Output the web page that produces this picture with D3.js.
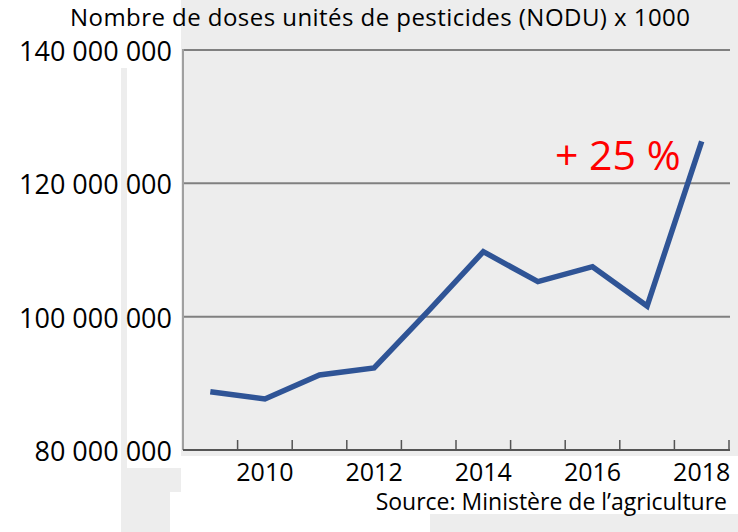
<html lang="fr">
	<head>
		<meta charset="utf-8">
		<title>D3: NODU</title>
		<script src="https://d3js.org/d3.v7.min.js"></script>
		<style type="text/css">
			body {
				margin: 0;
				background: #ededed;
			}
			svg {
				display: block;
			}
			text {
				font-family: "Open Sans", sans-serif;
			}
		</style>
	</head>
	<body>
		<script type="text/javascript">

			// data
			var years = [2009, 2010, 2011, 2012, 2013, 2014, 2015, 2016, 2017, 2018];
			var nodu = [88750000, 87650000, 91250000, 92300000, 100900000, 109750000, 105250000, 107500000, 101600000, 126300000];
			var yTicks = [80000000, 100000000, 120000000, 140000000];
			var xLabels = [2010, 2012, 2014, 2016, 2018];

			var w = 738;
			var h = 532;

			var svg = d3.select("body")
						.append("svg")
						.attr("width", w)
						.attr("height", h);

			// white patches of the original screenshot
			svg.append("rect").attr("x", 0).attr("y", 0).attr("width", 181).attr("height", 68).attr("fill", "#fff");
			svg.append("rect").attr("x", 0).attr("y", 0).attr("width", 121).attr("height", h).attr("fill", "#fff");
			svg.append("rect").attr("x", 127).attr("y", 68).attr("width", 54).attr("height", 400).attr("fill", "#fff");
			svg.append("rect").attr("x", 181).attr("y", 456).attr("width", w - 181).attr("height", 36).attr("fill", "#fff");
			svg.append("rect").attr("x", 170).attr("y", 492).attr("width", 260).attr("height", 40).attr("fill", "#fff");
			svg.append("rect").attr("x", 430).attr("y", 492).attr("width", w - 430).attr("height", 22).attr("fill", "#fff");

			var xScale = d3.scaleBand()
							.domain(years)
							.range([183, 729]);

			var yScale = d3.scaleLinear()
							.domain([80000000, 140000000])
							.range([450, 50]);

			//gridlines
			svg.selectAll("line.grid")
			   .data(yTicks.slice(1))
			   .enter()
			   .append("line")
			   .attr("class", "grid")
			   .attr("x1", 183)
			   .attr("x2", 730)
			   .attr("y1", function(d) { return yScale(d); })
			   .attr("y2", function(d) { return yScale(d); })
			   .attr("stroke", "#808080")
			   .attr("stroke-width", 2);

			// y axis line
			svg.append("line")
			   .attr("x1", 183).attr("x2", 183)
			   .attr("y1", yScale(140000000) - 1).attr("y2", yScale(80000000))
			   .attr("stroke", "#a0a0a0")
			   .attr("stroke-width", 2);

			// y labels
			svg.selectAll("text.ylab")
			   .data(yTicks)
			   .enter()
			   .append("text")
			   .attr("class", "ylab")
			   .attr("x", 172)
			   .attr("y", function(d) { return yScale(d) + 11; })
			   .attr("text-anchor", "end")
			   .attr("font-size", "27px")
			   .attr("fill", "#000")
			   .text(function(d) { return d3.format(",")(d).replace(/,/g, " "); });

			// x axis line, ticks at the band edges
			svg.append("line")
			   .attr("x1", 183).attr("x2", 730)
			   .attr("y1", 450).attr("y2", 450)
			   .attr("stroke", "#555")
			   .attr("stroke-width", 2);

			svg.selectAll("line.tick")
			   .data(years)
			   .enter()
			   .append("line")
			   .attr("class", "tick")
			   .attr("x1", function(d) { return xScale(d) + xScale.bandwidth(); })
			   .attr("x2", function(d) { return xScale(d) + xScale.bandwidth(); })
			   .attr("y1", 450)
			   .attr("y2", 440)
			   .attr("stroke", "#555")
			   .attr("stroke-width", 1.5);

			svg.selectAll("text.xlab")
			   .data(xLabels)
			   .enter()
			   .append("text")
			   .attr("class", "xlab")
			   .attr("x", function(d) { return xScale(d) + xScale.bandwidth() / 2; })
			   .attr("y", 481)
			   .attr("text-anchor", "middle")
			   .attr("font-size", "25px")
			   .attr("fill", "#000")
			   .text(function(d) { return d; });

			// the line
			var line = d3.line()
						.x(function(d, i) { return xScale(years[i]) + xScale.bandwidth() / 2; })
						.y(function(d) { return yScale(d); });

			svg.append("path")
			   .datum(nodu)
			   .attr("d", line)
			   .attr("fill", "none")
			   .attr("stroke", "#2f5496")
			   .attr("stroke-width", 5.5)
			   .attr("stroke-linejoin", "miter");

			// texts
			svg.append("text")
			   .attr("x", 380)
			   .attr("y", 26)
			   .attr("text-anchor", "middle")
			   .attr("font-size", "24px")
			   .attr("textLength", 620)
			   .attr("lengthAdjust", "spacing")
			   .attr("fill", "#000")
			   .text("Nombre de doses unités de pesticides (NODU) x 1000");

			svg.append("text")
			   .attr("x", 555)
			   .attr("y", 170)
			   .attr("font-size", "41px")
			   .attr("fill", "#ff0000")
			   .text("+ 25 %");

			svg.append("text")
			   .attr("x", 727)
			   .attr("y", 510)
			   .attr("text-anchor", "end")
			   .attr("font-size", "23px")
			   .attr("fill", "#000")
			   .text("Source: Ministère de l’agriculture");

		</script>
	</body>
</html>
